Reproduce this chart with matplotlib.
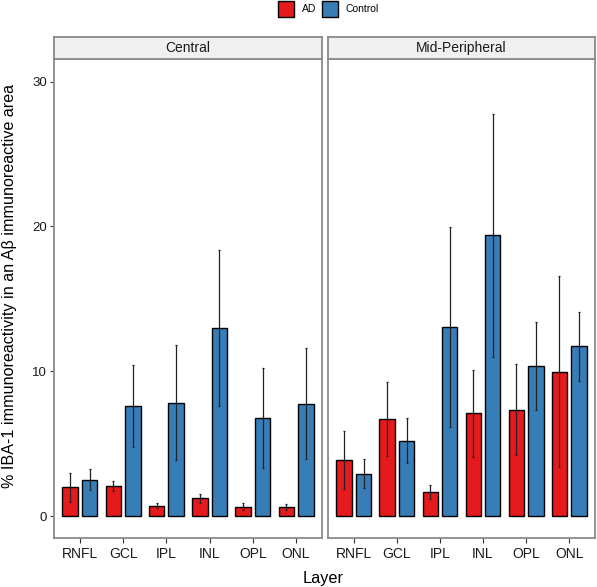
import numpy as np
import matplotlib.pyplot as plt
from matplotlib.patches import Rectangle

plt.rcParams['font.family'] = ['Liberation Sans', 'DejaVu Sans']

layers = ['RNFL', 'GCL', 'IPL', 'INL', 'OPL', 'ONL']

# Central
central_ad = [2.0, 2.07, 0.72, 1.24, 0.67, 0.62]
central_ad_err = [1.0, 0.35, 0.17, 0.31, 0.25, 0.21]
central_ctrl = [2.53, 7.62, 7.85, 13.0, 6.76, 7.78]
central_ctrl_err = [0.75, 2.85, 4.0, 5.4, 3.45, 3.85]

# Mid-Peripheral
mid_ad = [3.89, 6.69, 1.68, 7.11, 7.36, 9.97]
mid_ad_err = [2.0, 2.55, 0.5, 3.0, 3.15, 6.6]
mid_ctrl = [2.95, 5.22, 13.09, 19.39, 10.35, 11.73]
mid_ctrl_err = [1.0, 1.55, 6.9, 8.4, 3.05, 2.4]

RED = '#E41A1C'
BLUE = '#377EB8'
BORDER = '#8A8A8A'

W, H = 597, 587
fig = plt.figure(figsize=(W / 100, H / 100), dpi=100)

def px_axes(left, top, right, bottom):
    return fig.add_axes([left / W, 1 - bottom / H, (right - left) / W, (bottom - top) / H])

panels = [
    ('Central', 54, 322, central_ad, central_ad_err, central_ctrl, central_ctrl_err),
    ('Mid-Peripheral', 328, 595, mid_ad, mid_ad_err, mid_ctrl, mid_ctrl_err),
]

x = np.arange(1, len(layers) + 1)
bw = 0.36
off = 0.225

for i, (name, left, right, ad, ad_err, ctrl, ctrl_err) in enumerate(panels):
    ax = px_axes(left, 59, right, 538)
    ax.bar(x - off, ad, width=bw, color=RED, edgecolor='black', linewidth=1.0, zorder=2)
    ax.bar(x + off, ctrl, width=bw, color=BLUE, edgecolor='black', linewidth=1.0, zorder=2)
    ax.errorbar(x - off, ad, yerr=ad_err, fmt='none', ecolor='#222222', elinewidth=0.9,
                capsize=1, capthick=0.9, zorder=3)
    ax.errorbar(x + off, ctrl, yerr=ctrl_err, fmt='none', ecolor='#222222', elinewidth=0.9,
                capsize=1, capthick=0.9, zorder=3)
    ax.set_xlim(0.4, 6.6)
    ax.set_ylim(-1.5, 31.56)
    ax.set_xticks(x)
    ax.set_xticklabels(layers, fontsize=10, color='#1a1a1a')
    ax.set_yticks([0, 10, 20, 30])
    ax.tick_params(axis='x', length=3.5, width=0.8, color='#333333', pad=3)
    if i == 0:
        ax.set_yticklabels(['0', '10', '20', '30'], fontsize=9.5, color='#1a1a1a')
        ax.tick_params(axis='y', length=3, width=0.8, color='#333333', pad=2)
    else:
        ax.tick_params(axis='y', left=False, labelleft=False)
    for sp in ax.spines.values():
        sp.set_color(BORDER)
        sp.set_linewidth(1.3)

    # strip
    sax = px_axes(left, 37, right, 59)
    sax.set_facecolor('#F0F0F0')
    sax.set_xticks([])
    sax.set_yticks([])
    for sp in sax.spines.values():
        sp.set_color(BORDER)
        sp.set_linewidth(1.3)
    sax.text(0.5, 0.5, name, ha='center', va='center', fontsize=10, color='#1a1a1a',
             transform=sax.transAxes)

# axis labels
fig.text(323.5 / W, 1 - 578 / H, 'Layer', ha='center', va='center', fontsize=11.7)
fig.text(10 / W, 1 - 286 / H, '% IBA-1 immunoreactivity in an A\u03b2 immunoreactive area',
         ha='center', va='center', rotation=90, fontsize=11.6)

# legend
leg_items = [('AD', RED, 278, 302), ('Control', BLUE, 322.5, 346)]
for label, col, sx, tx in leg_items:
    fig.patches.append(Rectangle((sx / W, 1 - 17 / H), 16 / W, 16 / H, facecolor=col,
                                 edgecolor='black', linewidth=1.0, transform=fig.transFigure,
                                 figure=fig))
    fig.text(tx / W, 1 - 9 / H, label, ha='left', va='center', fontsize=7.5)

plt.savefig('out.png', dpi=100)
